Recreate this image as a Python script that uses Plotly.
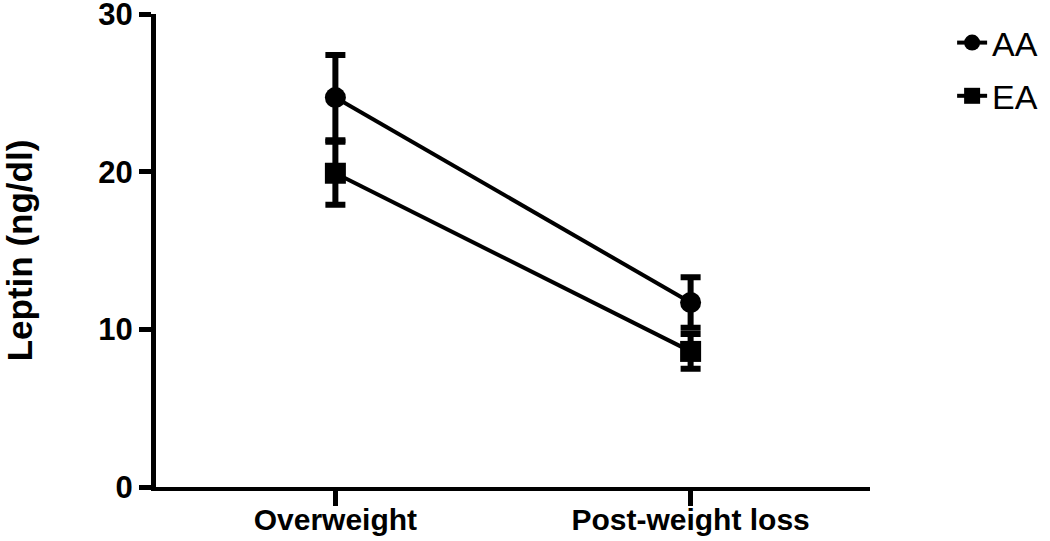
import plotly.graph_objects as go

GROUPS = ["Overweight", "Post-weight loss"]
AA_MEAN = [24.7, 11.7]
AA_ERR = [2.7, 1.6]
EA_MEAN = [19.9, 8.6]
EA_ERR = [2.0, 1.1]

X_POS = [0, 1]
FONT = "Liberation Sans, Arial, sans-serif"

fig = go.Figure()

for name, mean, err, symbol in [
    ("AA", AA_MEAN, AA_ERR, "circle"),
    ("EA", EA_MEAN, EA_ERR, "square"),
]:
    fig.add_trace(
        go.Scatter(
            x=X_POS,
            y=mean,
            mode="lines+markers",
            name=name,
            legendgroup=name,
            line=dict(color="black", width=4),
            marker=dict(symbol=symbol, size=21, color="black"),
            error_y=dict(
                type="data",
                array=err,
                color="black",
                thickness=6,
                width=10,
            ),
        )
    )

fig.update_layout(
    width=1050,
    height=541,
    plot_bgcolor="white",
    paper_bgcolor="white",
    margin=dict(l=156, r=180, t=14, b=54, autoexpand=False),
    font=dict(family=FONT, color="black"),
    showlegend=True,
    legend=dict(
        x=1.115,
        y=1.0,
        xanchor="left",
        yanchor="top",
        font=dict(size=34, family=FONT),
        tracegroupgap=6,
        bgcolor="rgba(0,0,0,0)",
    ),
)
fig.update_xaxes(
    range=[-0.505, 1.505],
    tickvals=X_POS,
    ticktext=GROUPS,
    automargin=False,
    showgrid=False,
    zeroline=False,
    showline=True,
    linecolor="black",
    linewidth=4,
    ticks="outside",
    ticklen=15,
    tickwidth=5,
    tickcolor="black",
    ticklabelstandoff=-12,
    ticklabeloverflow="allow",
    tickfont=dict(size=30, family=FONT, weight="bold"),
)
fig.update_yaxes(
    range=[0, 30],
    tickvals=[0, 10, 20, 30],
    automargin=False,
    showgrid=False,
    zeroline=False,
    showline=True,
    linecolor="black",
    linewidth=5,
    ticks="outside",
    ticklen=12,
    tickwidth=5,
    tickcolor="black",
    ticklabeloverflow="allow",
    tickfont=dict(size=31, family=FONT, weight="bold"),
    title=dict(
        text="Leptin (ng/dl)",
        font=dict(size=35, family=FONT, weight="bold"),
        standoff=63,
    ),
)

# drop the default 8px body margin so the figure fills the window
fig.write_html(
    "out.html",
    config={"displayModeBar": False},
    post_script="document.body.style.margin = '0';",
)
